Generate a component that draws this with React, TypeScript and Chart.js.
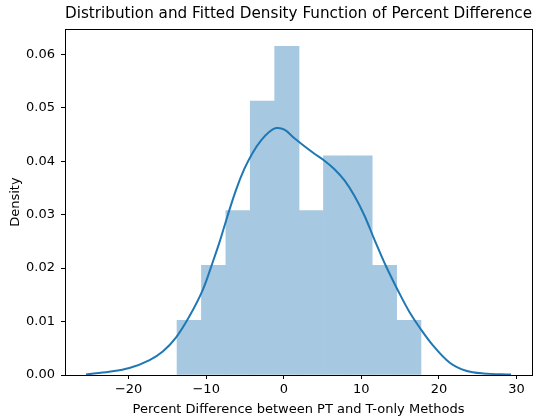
import React, { useEffect, useRef } from "react";
import { Chart, registerables } from "chart.js";

Chart.register(...registerables);

// Histogram (density) — bin centers and heights
const binCenters = [-12.19, -9.04, -5.89, -2.75, 0.4, 3.54, 6.69, 9.83, 12.98, 16.12];
const histDensity = [0.01025, 0.02051, 0.03076, 0.05127, 0.06152, 0.03076, 0.04102, 0.04102, 0.02051, 0.01025];

// Fitted density curve (KDE)
const kdeX = [-25.5, -22.5, -19.9, -17.3, -15.6, -13.9, -12.2, -10.45, -9.16, -8.27, -7.22, -6.14, -5.07, -4.0, -2.92, -1.85, -0.98, 0.09, 1.38, 2.67, 3.96, 5.25, 6.54, 7.83, 9.12, 10.41, 11.7, 13.2, 14.9, 16.2, 17.6, 19.2, 21.4, 23.5, 25.7, 29.3];
const kdeY = [0.0001, 0.0006, 0.0013, 0.0028, 0.0044, 0.007, 0.0109, 0.0159, 0.0211, 0.0249, 0.0299, 0.0347, 0.0386, 0.0416, 0.0439, 0.0455, 0.0462, 0.0459, 0.0443, 0.0428, 0.0414, 0.0401, 0.0385, 0.0364, 0.0335, 0.0298, 0.0253, 0.0203, 0.0153, 0.0118, 0.0087, 0.0056, 0.0023, 0.0008, 0.0003, 0.0001];

const xTicks = [-20, -10, 0, 10, 20, 30];
const yTicks = [0, 0.01, 0.02, 0.03, 0.04, 0.05, 0.06];

const titleText = "Distribution and Fitted Density Function of Percent Difference";
const xLabel = "Percent Difference between PT and T-only Methods";
const yLabel = "Density";

const FONT = "'DejaVu Sans', sans-serif";

const framePlugin = {
  id: "frame",
  afterDatasetsDraw(chart: any) {
    const { ctx, chartArea } = chart;
    ctx.save();
    ctx.strokeStyle = "#000";
    ctx.lineWidth = 1;
    ctx.strokeRect(
      Math.round(chartArea.left) + 0.5,
      Math.round(chartArea.top) + 0.5,
      Math.round(chartArea.right) - Math.round(chartArea.left),
      Math.round(chartArea.bottom) - Math.round(chartArea.top)
    );
    ctx.restore();
  },
};

export default function App() {
  const ref = useRef<HTMLCanvasElement | null>(null);

  useEffect(() => {
    if (!ref.current) return;
    const chart = new Chart(ref.current, {
      type: "bar",
      data: {
        datasets: [
          {
            type: "line",
            data: kdeX.map((x, i) => ({ x, y: kdeY[i] })),
            borderColor: "#1f77b4",
            borderWidth: 2,
            pointRadius: 0,
            fill: false,
            tension: 0.35,
            order: 0,
          } as any,
          {
            type: "bar",
            data: binCenters.map((x, i) => ({ x, y: histDensity[i] })),
            backgroundColor: "rgb(166,200,225)",
            borderWidth: 0,
            barPercentage: 1,
            categoryPercentage: 1,
            order: 1,
          } as any,
        ],
      },
      options: {
        animation: false,
        responsive: false,
        layout: { padding: { left: 0, right: 10, top: 0, bottom: 0 } },
        plugins: {
          legend: { display: false },
          tooltip: { enabled: false },
          title: {
            display: true,
            text: titleText,
            fullSize: false,
            color: "#000",
            font: { family: FONT, size: 15.6, weight: "normal" },
            padding: { top: 5, bottom: 5.5 },
          } as any,
        },
        scales: {
          x: {
            type: "linear",
            min: -28.2,
            max: 32.0,
            offset: false,
            grid: { display: true, drawOnChartArea: false, drawTicks: true, tickLength: 4, color: "#000", offset: false },
            border: { display: true, color: "#000", width: 1 },
            ticks: {
              color: "#000",
              font: { family: FONT, size: 13 },
              padding: 3,
              maxRotation: 0,
              callback: (v: any) => (Number(v) < 0 ? "\u2212" + Math.abs(Number(v)) : String(v)),
            },
            afterBuildTicks: (scale: any) => {
              scale.ticks = xTicks.map((v) => ({ value: v }));
            },
            afterFit: (scale: any) => {
              scale.height = 43;
            },
            title: {
              display: true,
              text: xLabel,
              color: "#000",
              font: { family: FONT, size: 13 },
              padding: { top: 0, bottom: 1 },
            },
          },
          y: {
            type: "linear",
            min: 0,
            max: 0.0647,
            grid: { display: true, drawOnChartArea: false, drawTicks: true, tickLength: 4, color: "#000" },
            border: { display: true, color: "#000", width: 1 },
            ticks: {
              color: "#000",
              font: { family: FONT, size: 13 },
              padding: 6,
              callback: (v: any) => Number(v).toFixed(2),
            },
            afterBuildTicks: (scale: any) => {
              scale.ticks = yTicks.map((v) => ({ value: v }));
            },
            afterFit: (scale: any) => {
              scale.width = 65;
            },
            title: {
              display: true,
              text: yLabel,
              color: "#000",
              font: { family: FONT, size: 13 },
              padding: { top: 8, bottom: 0 },
            },
          },
        },
      } as any,
      plugins: [framePlugin],
    });
    return () => chart.destroy();
  }, []);

  return (
    <div style={{ position: "absolute", left: 0, top: 0, width: 542, height: 418, background: "#fff" }}>
      <canvas ref={ref} width={542} height={418} style={{ display: "block" }} />
    </div>
  );
}
